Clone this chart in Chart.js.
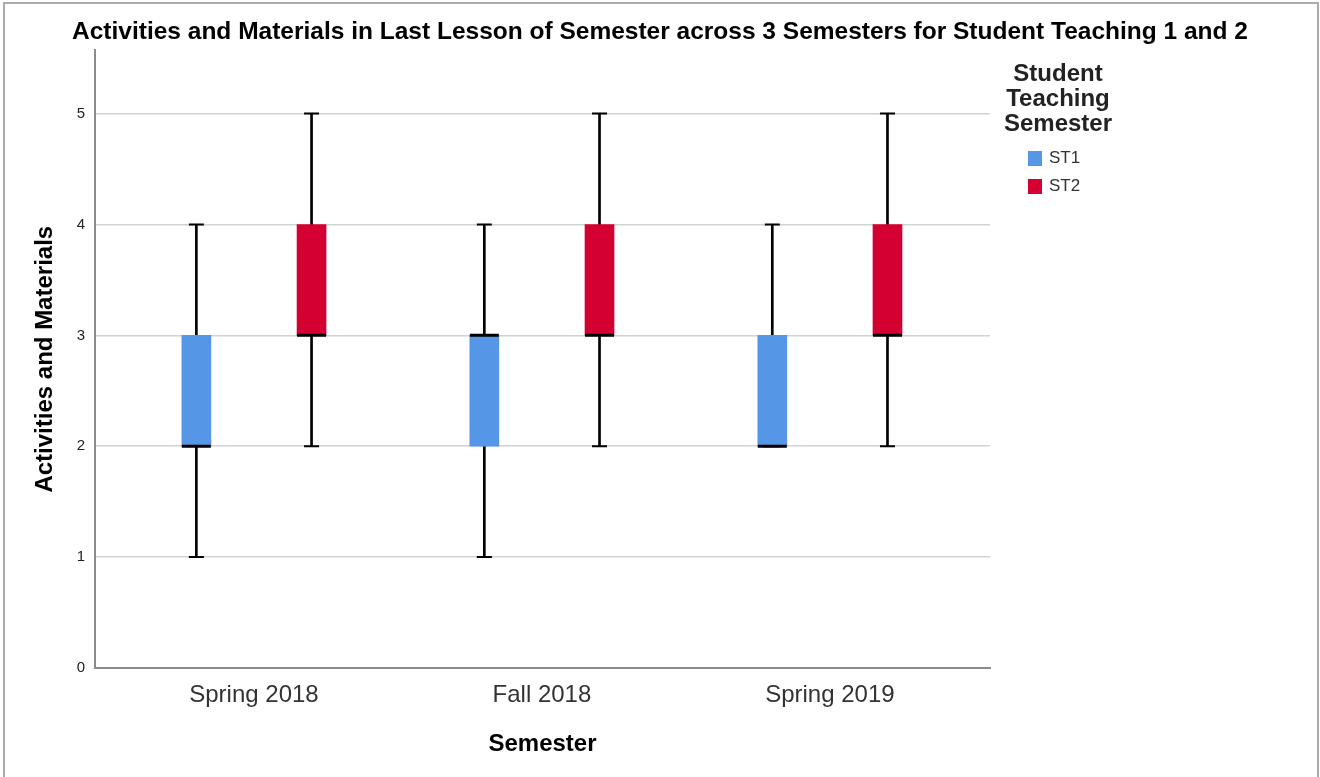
<!DOCTYPE html>
<html>
<head>
<meta charset="utf-8">
<script src="https://cdn.jsdelivr.net/npm/chart.js@4.4.1/dist/chart.umd.min.js"></script>
<style>
  html, body { margin: 0; padding: 0; background: #fff; }
  #wrap { position: relative; width: 1320px; height: 777px; overflow: hidden; }
  #frame { position: absolute; left: 3px; top: 2px; width: 1316px; height: 780px;
           border: 2px solid #ababab; box-sizing: border-box; pointer-events: none; }
  #chart { position: absolute; left: 0; top: 0; }
  #legend { position: absolute; left: 998px; top: 60px; width: 120px;
            font-family: "Liberation Sans", Arial, sans-serif; color: #222; }
  #legend .ttl { font-weight: bold; font-size: 24px; line-height: 25px; text-align: center; }
  #legend .item { position: relative; height: 28px; font-size: 17px; color: #333; }
  #legend .sw { position: absolute; left: 30px; top: 4px; width: 14px; height: 15px; }
  #legend .lbl { position: absolute; left: 51px; top: 1px; }
</style>
</head>
<body>
<div id="wrap">
  <canvas id="chart" width="1320" height="777"></canvas>
  <div id="legend"></div>
  <div id="frame"></div>
</div>
<script>
const semesters = ['Spring 2018', 'Fall 2018', 'Spring 2019'];
const groups = ['ST1', 'ST2'];
const groupColors = ['#5596e6', '#d50032'];

// box plot summaries per semester
const st1Min    = [1, 1, 2];
const st1Q1     = [2, 2, 2];
const st1Median = [2, 3, 2];
const st1Q3     = [3, 3, 3];
const st1Max    = [4, 4, 4];

const st2Min    = [2, 2, 2];
const st2Q1     = [3, 3, 3];
const st2Median = [3, 3, 3];
const st2Q3     = [4, 4, 4];
const st2Max    = [5, 5, 5];

const yTicks = [0, 1, 2, 3, 4, 5];

const stats = [
  { min: st1Min, q1: st1Q1, med: st1Median, q3: st1Q3, max: st1Max },
  { min: st2Min, q1: st2Q1, med: st2Median, q3: st2Q3, max: st2Max }
];
const groupOffset = [-0.2, 0.2];

const datasets = [];
stats.forEach((s, g) => {
  const xs = semesters.map((_, i) => i + groupOffset[g]);
  // whisker line
  datasets.push({
    type: 'bar', label: groups[g] + ' whisker', order: 5,
    data: xs.map((x, i) => ({ x: x, y: [s.min[i], s.max[i]] })),
    backgroundColor: '#000', borderWidth: 0, barThickness: 2, grouped: false
  });
  // box
  datasets.push({
    type: 'bar', label: groups[g], order: 3,
    data: xs.map((x, i) => ({ x: x, y: [s.q1[i], s.q3[i]] })),
    backgroundColor: groupColors[g], borderWidth: 0, barThickness: 29, grouped: false
  });
  // caps
  datasets.push({
    type: 'line', label: groups[g] + ' caps', order: 2, showLine: false,
    data: xs.flatMap((x, i) => [{ x: x, y: s.min[i] }, { x: x, y: s.max[i] }]),
    pointStyle: 'line', pointRadius: 7.5, borderColor: '#000', borderWidth: 2
  });
  // median
  datasets.push({
    type: 'line', label: groups[g] + ' median', order: 1, showLine: false,
    data: xs.map((x, i) => ({ x: x, y: s.med[i] })),
    pointStyle: 'line', pointRadius: 14.5, borderColor: '#000', borderWidth: 3
  });
});

new Chart(document.getElementById('chart'), {
  type: 'bar',
  data: { datasets: datasets },
  options: {
    responsive: false,
    animation: false,
    layout: { padding: 0 },
    plugins: {
      legend: { display: false },
      tooltip: { enabled: false },
      title: {
        display: true,
        text: 'Activities and Materials in Last Lesson of Semester across 3 Semesters for Student Teaching 1 and 2',
        color: '#000',
        font: { family: 'Liberation Sans', size: 24.5, weight: 'bold' },
        padding: { top: 17.5, bottom: 3.5 }
      }
    },
    scales: {
      x: {
        type: 'linear',
        offset: false,
        min: -0.552,
        max: 2.556,
        afterBuildTicks: (scale) => { scale.ticks = semesters.map((_, i) => ({ value: i })); },
        afterFit: (scale) => { scale.height = 109; },
        grid: { display: false, drawTicks: false },
        border: { display: true, color: '#8c8c8c', width: 2 },
        ticks: {
          callback: (v) => semesters[v],
          color: '#333',
          padding: 13,
          maxRotation: 0,
          font: { family: 'Liberation Sans', size: 24 }
        },
        title: {
          display: true, text: 'Semester', color: '#000',
          font: { family: 'Liberation Sans', size: 24, weight: 'bold' },
          padding: { top: 0, bottom: 18 }
        }
      },
      y: {
        type: 'linear',
        min: 0,
        max: 5.57,
        afterBuildTicks: (scale) => { scale.ticks = yTicks.map(v => ({ value: v })); },
        afterFit: (scale) => { scale.width = 95; },
        grid: { color: '#d2d2d2', lineWidth: 1.5, drawTicks: false },
        border: { display: true, color: '#8c8c8c', width: 2 },
        ticks: {
          color: '#222',
          padding: 10,
          font: { family: 'Liberation Sans', size: 15 }
        },
        title: {
          display: true, text: 'Activities and Materials', color: '#000',
          font: { family: 'Liberation Sans', size: 24, weight: 'bold' },
          padding: { top: 31, bottom: 0 }
        }
      },
      // empty right axis reserving the legend column
      yLegend: {
        type: 'linear',
        position: 'right',
        afterFit: (scale) => { scale.width = 330; },
        grid: { display: false, drawTicks: false },
        border: { display: false },
        ticks: { display: false }
      }
    }
  }
});

// legend
const legend = document.getElementById('legend');
legend.innerHTML = '<div class="ttl">Student<br>Teaching<br>Semester</div><div style="height:12px"></div>' +
  groups.map((g, i) => '<div class="item"><div class="sw" style="background:' + groupColors[i] +
    '"></div><div class="lbl">' + g + '</div></div>').join('');
</script>
</body>
</html>
